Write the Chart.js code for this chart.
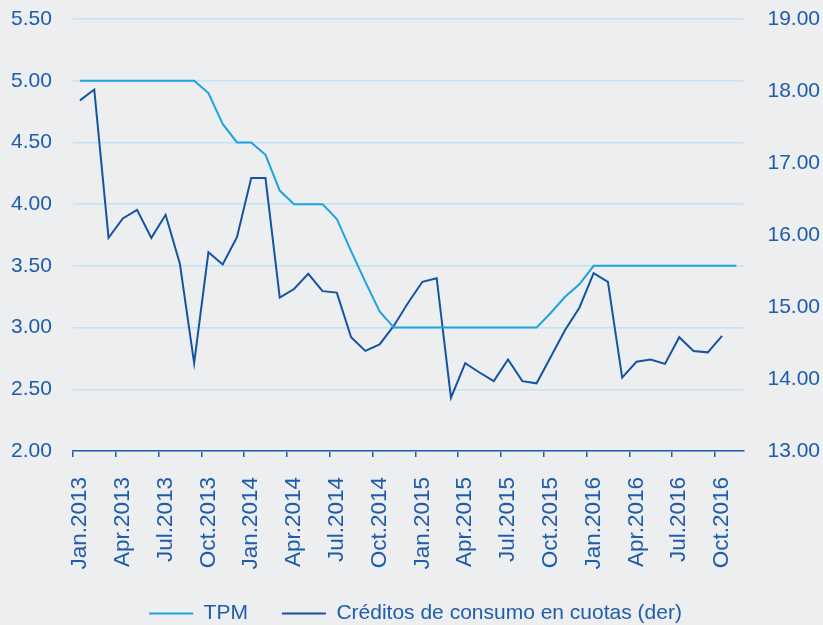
<!DOCTYPE html>
<html>
<head>
<meta charset="utf-8">
<script src="https://cdn.jsdelivr.net/npm/chart.js@4/dist/chart.umd.min.js"></script>
<style>
  body { margin: 0; background: #eceef0; }
  #wrap { width: 823px; height: 625px; }
</style>
</head>
<body>
<div id="wrap"><canvas id="myChart"></canvas></div>
<script>
// monthly categories, Jan.2013 - Nov.2016
const months = [
  "Jan.2013","Feb.2013","Mar.2013","Apr.2013","May.2013","Jun.2013","Jul.2013","Aug.2013","Sep.2013","Oct.2013","Nov.2013","Dec.2013",
  "Jan.2014","Feb.2014","Mar.2014","Apr.2014","May.2014","Jun.2014","Jul.2014","Aug.2014","Sep.2014","Oct.2014","Nov.2014","Dec.2014",
  "Jan.2015","Feb.2015","Mar.2015","Apr.2015","May.2015","Jun.2015","Jul.2015","Aug.2015","Sep.2015","Oct.2015","Nov.2015","Dec.2015",
  "Jan.2016","Feb.2016","Mar.2016","Apr.2016","May.2016","Jun.2016","Jul.2016","Aug.2016","Sep.2016","Oct.2016","Nov.2016"
];

// TPM (left axis, %)
const tpm = [
  5.00, 5.00, 5.00, 5.00, 5.00, 5.00, 5.00, 5.00, 5.00, 4.90, 4.65, 4.50,
  4.50, 4.40, 4.11, 4.00, 4.00, 4.00, 3.88, 3.62, 3.37, 3.13, 3.00, 3.00,
  3.00, 3.00, 3.00, 3.00, 3.00, 3.00, 3.00, 3.00, 3.00, 3.12, 3.25, 3.35,
  3.50, 3.50, 3.50, 3.50, 3.50, 3.50, 3.50, 3.50, 3.50, 3.50, 3.50
];

// Créditos de consumo en cuotas (right axis, %)
const creditos = [
  17.87, 18.02, 15.96, 16.23, 16.35, 15.96, 16.28, 15.60, 14.22, 15.76, 15.59, 15.97,
  16.79, 16.79, 15.13, 15.25, 15.46, 15.22, 15.20, 14.58, 14.39, 14.48, 14.74, 15.06,
  15.35, 15.40, 13.74, 14.22, 14.09, 13.97, 14.27, 13.97, 13.94, 14.31, 14.68, 14.99,
  15.47, 15.35, 14.02, 14.24, 14.27, 14.21, 14.58, 14.39, 14.37, 14.60, null
];

const textBlue = "#1f5caa";
const fontFam = "'Liberation Sans', Arial, sans-serif";

let ctx = document.getElementById("myChart").getContext("2d");

let chart = new Chart(ctx, {
  type: 'line',
  data: {
    labels: months,
    datasets: [{
      label: "TPM",
      data: tpm,
      yAxisID: 'y',
      borderColor: "#1ca3e0",
      backgroundColor: "#1ca3e0",
      borderWidth: 2,
      pointRadius: 0,
      tension: 0
    }, {
      label: "Créditos de consumo en cuotas (der)",
      data: creditos,
      yAxisID: 'y1',
      borderColor: "#1553a3",
      backgroundColor: "#1553a3",
      borderWidth: 2,
      pointRadius: 0,
      tension: 0
    }]
  },
  options: {
    responsive: true,
    maintainAspectRatio: false,
    animation: false,
    layout: {
      padding: { left: 11, right: 3, top: 19, bottom: -9 }
    },
    plugins: {
      legend: {
        position: 'bottom',
        labels: {
          usePointStyle: true,
          pointStyle: 'line',
          pointStyleWidth: 44,
          padding: 34,
          color: textBlue,
          font: { family: fontFam, size: 21 }
        }
      },
      tooltip: { enabled: false }
    },
    scales: {
      x: {
        offset: true,
        afterFit: (scale) => { scale.height = 118; },   // axis box was taller than the labels
        grid: {
          offset: true,
          drawOnChartArea: false,
          tickLength: 6,
          lineWidth: 1.5,
          color: (c) => (c.index % 3 === 0 ? textBlue : 'rgba(0,0,0,0)')
        },
        border: { display: true, color: textBlue, width: 1.5 },
        ticks: {
          autoSkip: false,
          minRotation: 90,
          maxRotation: 90,
          padding: 20,
          color: textBlue,
          font: { family: fontFam, size: 22.5 },
          callback: function (val, i) {
            return i % 3 === 0 ? this.getLabelForValue(val) : '';
          }
        }
      },
      y: {
        position: 'left',
        min: 2,
        max: 5.5,
        grid: { color: "#c0e4f5", lineWidth: 1.5, drawTicks: true, tickLength: 21, tickColor: 'rgba(0,0,0,0)' },
        border: { display: false },
        ticks: {
          stepSize: 0.5,
          padding: 0,
          color: textBlue,
          font: { family: fontFam, size: 21 },
          callback: (v) => v.toFixed(2)
        }
      },
      y1: {
        position: 'right',
        min: 13,
        max: 19,
        grid: { drawOnChartArea: false, drawTicks: true, tickLength: 24, tickColor: 'rgba(0,0,0,0)' },
        border: { display: false },
        ticks: {
          stepSize: 1,
          padding: 0,
          color: textBlue,
          font: { family: fontFam, size: 21 },
          callback: (v) => v.toFixed(2)
        }
      }
    }
  }
});
</script>
</body>
</html>
